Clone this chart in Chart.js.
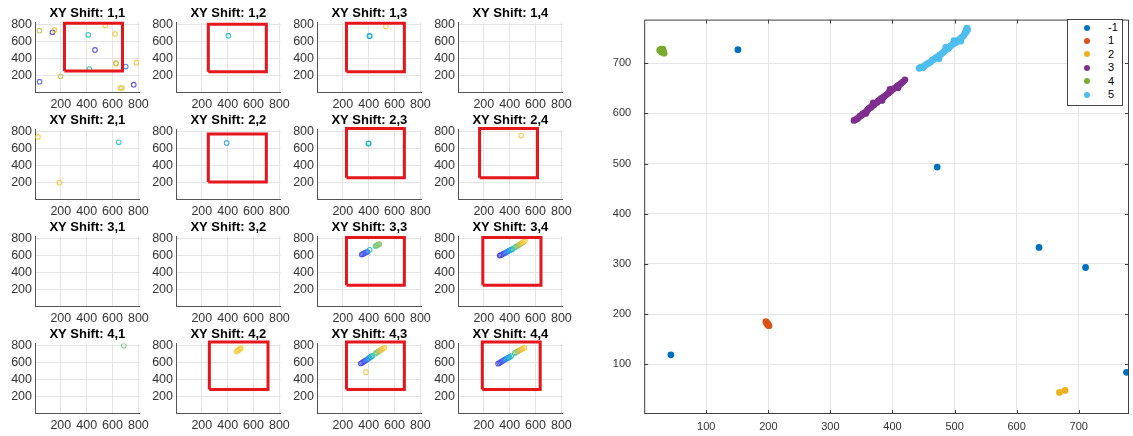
<!DOCTYPE html>
<html>
<head>
<meta charset="utf-8">
<script src="https://cdn.jsdelivr.net/npm/chart.js@4.4.0/dist/chart.umd.min.js"></script>
<style>
  body { margin: 0; background: #fff; }
  #wrap { position: relative; width: 1133px; height: 436px; overflow: hidden; font-family: 'Liberation Sans', Arial, sans-serif; }
  #wrap canvas { position: absolute; }
  #legend { position: absolute; left: 1067px; top: 19px; width: 54px; height: 84px; border: 1px solid #444; background: #fff; padding-top: 1px; box-sizing: content-box; }
  #legend .row { position: relative; height: 13.4px; font-size: 11px; line-height: 13.4px; color: #000; }
  #legend .dot { position: absolute; left: 16px; top: 3.7px; width: 6px; height: 6px; border-radius: 50%; }
  #legend .lab { position: absolute; left: 40px; top: 0; }
</style>
</head>
<body>
<div id="wrap"></div>
<script>
// ---- small panels, points as [x, y, colour value 0..1] ----
const shift11 = [[35,122,.15],[35,725,.75],[135,706,.05],[151,734,.9],[197,186,.72],[412,675,.42],[543,785,.9],
  [464,497,.08],[620,686,.88],[420,272,.45],[625,340,.8],[628,335,.78],[702,300,.22],[785,347,.85],
  [661,47,.82],[672,47,.82],[764,86,.08]];
const shift12 = [[405,666,.42]];
const shift13 = [[405,663,.4],[409,660,.38],[533,773,.92]];
const shift14 = [];
const shift21 = [[23,734,.92],[189,193,.9],[648,670,.45]];
const shift22 = [[392,663,.32]];
const shift23 = [[397,655,.38],[401,658,.4]];
const shift24 = [[488,749,.9]];
const shift31 = [];
const shift32 = [];
const shift33 = [[346,608,.1],[355,614,.1],[364,622,.12],[372,628,.14],[382,635,.16],[390,640,.2],
  [408,664,.4],[452,708,.58],[460,714,.6],[468,720,.62],[476,726,.64],[482,731,.66]];
const shift34 = [[322,596,.08],[330,600,.1],[340,608,.12],[350,616,.14],[360,624,.16],[370,632,.2],
  [380,640,.24],[390,650,.28],[400,658,.32],[410,666,.36],[420,672,.4],[440,692,.55],[450,702,.58],
  [460,712,.62],[470,720,.68],[480,730,.74],[490,740,.8],[500,750,.85],[510,762,.9],[518,772,.94]];
const shift41 = [[687,796,.6]];
const shift42 = [[469,729,.9],[478,738,.9],[487,748,.92],[496,758,.93],[502,766,.95]];
const shift43 = [[338,585,.08],[348,594,.1],[358,603,.12],[368,612,.15],[378,622,.18],[388,632,.22],
  [398,645,.28],[408,656,.33],[418,666,.37],[428,676,.4],[450,700,.55],[460,712,.6],[470,722,.65],
  [480,732,.72],[490,742,.78],[500,752,.84],[510,762,.88],[520,772,.92],[379,482,.88]];
const shift44 = [[310,583,.08],[320,592,.1],[330,600,.12],[340,610,.15],[350,620,.18],[360,630,.2],
  [370,638,.24],[380,646,.28],[390,654,.32],[398,660,.36],[410,672,.4],[440,708,.55],[449,718,.6],
  [460,728,.66],[470,736,.72],[480,744,.78],[490,752,.84],[500,760,.88],[513,769,.92]];
const shiftPanels = [shift11, shift12, shift13, shift14, shift21, shift22, shift23, shift24,
  shift31, shift32, shift33, shift34, shift41, shift42, shift43, shift44];
// red search boxes [x1, x2, y1, y2], null where there is none
const shiftBoxes = [[228,677,248,812],[250,699,240,801],[228,676,240,813],null,
  null,[250,699,200,769],[228,676,252,832],[167,615,252,832],
  null,null,[228,676,246,808],[192,642,246,808],
  null,[258,712,279,840],[228,676,279,840],[188,636,279,840]];
const smallTicks = [200, 400, 600, 800];

// ---- big plot ----
const clusterLabels = ['-1', '1', '2', '3', '4', '5'];
const clusterNoise = [[151,727],[472,493],[636,333],[711,293],[43,119],[777,84]];
const cluster1 = [[196,185],[197,183],[198,181],[199,179],[200,178],[201,177],[199,181]];
const cluster2 = [[669,44],[678,48]];
const cluster3 = [[338,586],[341,588],[344,590],[347,594],[350,596],[352,599],[355,601],[357,600],[358,604],
  [360,607],[362,610],[365,612],[367,615],[369,621],[370,617],[372,620],[375,622],[377,625],[380,627],
  [382,630],[383,626],[385,632],[387,634],[390,637],[393,640],[395,642],[396,648],[398,645],[400,648],
  [403,650],[406,652],[408,655],[409,651],[411,657],[414,660],[417,663],[420,667]];
const cluster4 = [[25,726],[27,728],[29,725],[31,723],[32,720],[30,728],[28,722]];
const cluster5 = [[443,690],[446,692],[449,691],[452,695],[455,698],[458,700],[461,702],[464,706],[467,708],
  [470,711],[473,713],[475,709],[476,716],[479,719],[482,722],[485,726],[486,732],[488,728],[491,731],
  [494,735],[497,738],[499,745],[500,740],[503,742],[506,746],[509,749],[510,744],[512,752],[515,756],
  [517,760],[518,765],[519,763],[520,770],[521,767]];
const clusterSeries = [clusterNoise, cluster1, cluster2, cluster3, cluster4, cluster5];
const clusterColors = ['#0072bd', '#d95319', '#edb120', '#7e2f8e', '#77ac30', '#4dbeee'];
const bigTicks = [100, 200, 300, 400, 500, 600, 700];

const parulaStops = ['#3e26a8', '#4852f4', '#2796eb', '#12beb9', '#5cc48a', '#b8c44b', '#f5bd3d', '#f2dc2a'];
function parula(t, a) {
  t = Math.max(0, Math.min(1, t)) * (parulaStops.length - 1);
  const i = Math.min(Math.floor(t), parulaStops.length - 2), f = t - i;
  const c0 = parulaStops[i], c1 = parulaStops[i + 1];
  const ch = k => {
    const v0 = parseInt(c0.substr(1 + 2 * k, 2), 16), v1 = parseInt(c1.substr(1 + 2 * k, 2), 16);
    return Math.round(v0 + (v1 - v0) * f);
  };
  return `rgba(${ch(0)},${ch(1)},${ch(2)},${a})`;
}

const wrap = document.getElementById('wrap');
function addCanvas(left, top, w, h) {
  const c = document.createElement('canvas');
  c.width = w; c.height = h;
  c.style.left = left + 'px'; c.style.top = top + 'px';
  c.style.width = w + 'px'; c.style.height = h + 'px';
  wrap.appendChild(c);
  return c;
}

const tickFont = { family: "'Liberation Sans', Arial, sans-serif", size: 12.5 };

shiftPanels.forEach((pts, k) => {
  const r = Math.floor(k / 4), c = k % 4;
  const plotLeft = Math.round(34.7 + 141.2 * c);
  const plotTop = 22.7 + 107.1 * r;
  const canvas = addCanvas(plotLeft - 35, Math.round(plotTop - 20.6), 154, 112);
  const datasets = [];
  const b = shiftBoxes[k];
  if (b) {
    datasets.push({
      data: [{x: b[0], y: b[2]}, {x: b[1], y: b[2]}, {x: b[1], y: b[3]}, {x: b[0], y: b[3]}, {x: b[0], y: b[2]}],
      showLine: true, borderColor: '#e5161c', borderWidth: 3, pointRadius: 0,
      borderJoinStyle: 'miter', clip: false
    });
  }
  datasets.push({
    data: pts.map(p => ({x: p[0], y: p[1], c: p[2]})),
    pointRadius: 2.3, pointBorderWidth: 1.1,
    pointBackgroundColor: 'rgba(0,0,0,0)',
    pointBorderColor: ctx => parula(ctx.raw ? ctx.raw.c : 0, 0.85)
  });
  new Chart(canvas, {
    type: 'scatter',
    data: { datasets },
    options: {
      responsive: false, animation: false, events: [],
      layout: { padding: { left: 0, right: 14, top: 0, bottom: 0 } },
      plugins: {
        legend: { display: false }, tooltip: { enabled: false },
        title: {
          display: true, text: `XY Shift: ${r + 1},${c + 1}`, fullSize: false, color: '#000',
          font: { family: "'Liberation Sans', Arial, sans-serif", size: 13, weight: 'bold', lineHeight: 1.2 },
          padding: { top: 4, bottom: 1 }
        }
      },
      scales: {
        x: {
          type: 'linear', min: 0, max: 810,
          afterBuildTicks: s => { s.ticks = smallTicks.map(v => ({ value: v })); },
          afterFit: s => { s.height = 22; },
          grid: { color: '#e4e4e4', drawTicks: false },
          border: { color: '#555', width: 1 },
          ticks: { color: '#333', font: tickFont, padding: 5, maxRotation: 0, autoSkip: false }
        },
        y: {
          type: 'linear', min: 0, max: 820,
          afterBuildTicks: s => { s.ticks = smallTicks.map(v => ({ value: v })); },
          afterFit: s => { s.width = 35; },
          grid: { color: '#e4e4e4', drawTicks: false },
          border: { color: '#555', width: 1 },
          ticks: { color: '#333', font: tickFont, padding: 3, autoSkip: false }
        }
      }
    }
  });
});

// box with inward ticks round the big axes
const boxPlugin = {
  id: 'box',
  afterDraw(chart) {
    const { ctx, chartArea: a, scales: { x, y } } = chart;
    ctx.save();
    ctx.strokeStyle = '#404040';
    ctx.lineWidth = 1;
    ctx.strokeRect(a.left + 0.5, a.top + 0.5, a.width - 1, a.height - 1);
    ctx.beginPath();
    bigTicks.forEach(v => {
      const px = Math.round(x.getPixelForValue(v)) + 0.5;
      ctx.moveTo(px, a.bottom); ctx.lineTo(px, a.bottom - 4);
      ctx.moveTo(px, a.top); ctx.lineTo(px, a.top + 4);
      const py = Math.round(y.getPixelForValue(v)) + 0.5;
      ctx.moveTo(a.left, py); ctx.lineTo(a.left + 4, py);
      ctx.moveTo(a.right, py); ctx.lineTo(a.right - 4, py);
    });
    ctx.stroke();
    ctx.restore();
  }
};

const bigFont = { family: "'Liberation Sans', Arial, sans-serif", size: 11 };
const bigCanvas = addCanvas(580, 0, 553, 436);
const bigChart = new Chart(bigCanvas, {
  type: 'scatter',
  data: {
    datasets: clusterSeries.map((s, i) => ({
      label: clusterLabels[i],
      data: s.map(p => ({ x: p[0], y: p[1] })),
      pointRadius: 3.4, pointBorderWidth: 0,
      backgroundColor: clusterColors[i], borderColor: clusterColors[i]
    })).reverse()
  },
  options: {
    responsive: false, animation: false, events: [],
    layout: { padding: { left: 0, right: 3, top: 12, bottom: 0 } },
    plugins: { legend: { display: false }, tooltip: { enabled: false } },
    scales: {
      x: {
        type: 'linear', min: 0, max: 781,
        afterBuildTicks: s => { s.ticks = bigTicks.map(v => ({ value: v })); },
        afterFit: s => { s.height = 22; },
        grid: { color: '#e6e6e6', drawTicks: false },
        border: { display: false },
        ticks: { color: '#333', font: bigFont, padding: 6, maxRotation: 0, autoSkip: false }
      },
      y: {
        type: 'linear', min: 1, max: 787,
        afterBuildTicks: s => { s.ticks = bigTicks.map(v => ({ value: v })); },
        afterFit: s => { s.width = 64.2; },
        grid: { color: '#e6e6e6', drawTicks: false },
        border: { display: false },
        ticks: { color: '#333', font: bigFont, padding: 13, autoSkip: false }
      }
    }
  },
  plugins: [boxPlugin]
});

// legend inside the big axes, built from the chart's datasets
const legend = document.createElement('div');
legend.id = 'legend';
bigChart.data.datasets.slice().reverse().forEach(ds => {
  const row = document.createElement('div');
  row.className = 'row';
  const dot = document.createElement('span');
  dot.className = 'dot';
  dot.style.background = ds.backgroundColor;
  const lab = document.createElement('span');
  lab.className = 'lab';
  lab.textContent = ds.label;
  row.appendChild(dot); row.appendChild(lab);
  legend.appendChild(row);
});
wrap.appendChild(legend);
</script>
</body>
</html>
